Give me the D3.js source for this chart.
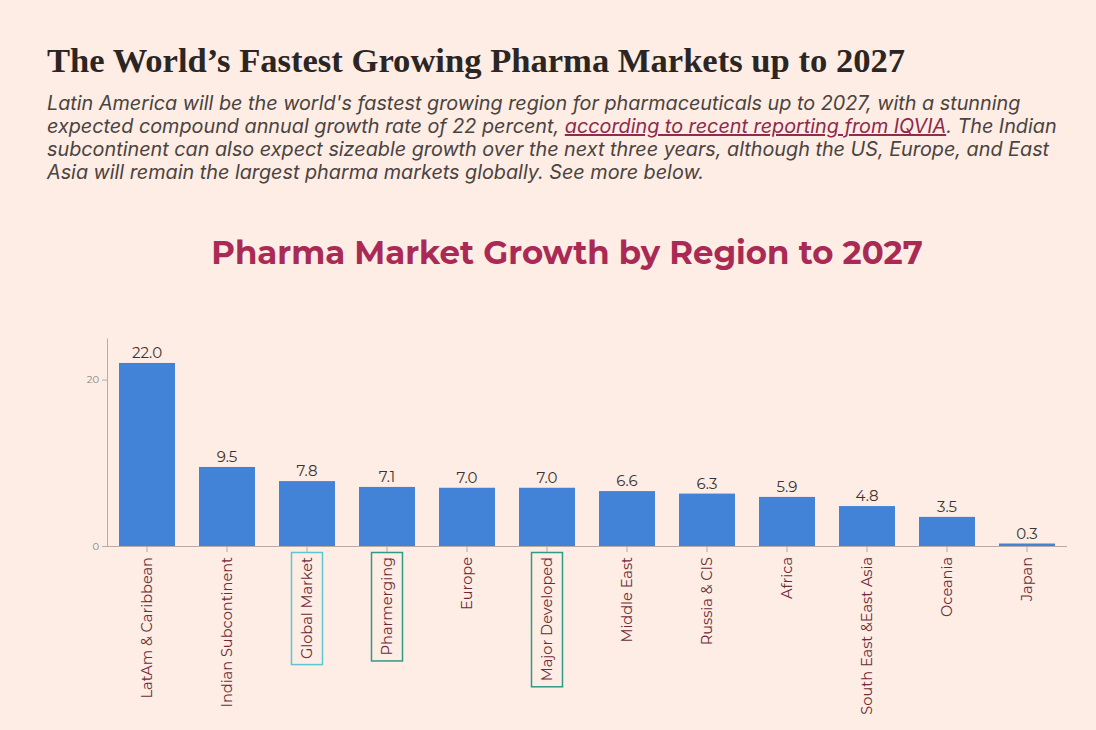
<!DOCTYPE html>
<html>
<head>
<meta charset="utf-8">
<script src="https://cdn.jsdelivr.net/npm/d3@7"></script>
<style>
  body { margin: 0; background: #fdede5; }
  svg { display: block; }
  .tick text { font-family: Montserrat, "Open Sans", sans-serif; }
</style>
</head>
<body>
<div id="chart"></div>
<script>
var svgWidth = 1096;
var svgHeight = 730;

// data
var regions = ["LatAm & Caribbean", "Indian Subcontinent", "Global Market", "Pharmerging",
  "Europe", "Major Developed", "Middle East", "Russia & CIS", "Africa",
  "South East &East Asia", "Oceania", "Japan"];
var growth = [22.0, 9.5, 7.8, 7.1, 7.0, 7.0, 6.6, 6.3, 5.9, 4.8, 3.5, 0.3];
var yTicks = [0, 20];
// labels that get a frame round them
var boxed = { "Global Market": "#5cc6d3", "Pharmerging": "#2f9a86", "Major Developed": "#2f9a86" };

var subtitleLines = [
  [["Latin America will be the world's fastest growing region for pharmaceuticals up to 2027, with a stunning", false]],
  [["expected compound annual growth rate of 22 percent, ", false], ["according to recent reporting from IQVIA", true], [". The Indian", false]],
  [["subcontinent can also expect sizeable growth over the next three years, although the US, Europe, and East", false]],
  [["Asia will remain the largest pharma markets globally. See more below.", false]]
];

var svg = d3.select("#chart")
  .append("svg")
  .attr("width", svgWidth)
  .attr("height", svgHeight);

// headline
svg.append("text")
  .attr("x", 47)
  .attr("y", 72)
  .attr("font-family", "'Liberation Serif', 'DejaVu Serif', serif")
  .attr("font-weight", "bold")
  .attr("font-size", 34.6)
  .attr("fill", "#2b2623")
  .text("The World\u2019s Fastest Growing Pharma Markets up to 2027");

var sub = svg.append("text")
  .attr("font-family", "Inter, 'Open Sans', sans-serif")
  .attr("font-style", "italic")
  .attr("font-size", 19.8)
  .attr("fill", "#4a4340");

subtitleLines.forEach(function (line, i) {
  line.forEach(function (part, j) {
    var ts = sub.append("tspan").text(part[0]);
    if (j === 0) ts.attr("x", 47).attr("y", 110 + i * 23);
    if (part[1]) ts.attr("fill", "#8e2a4b").attr("text-decoration", "underline");
  });
});

// chart title
svg.append("text")
  .attr("x", 567)
  .attr("y", 264)
  .attr("text-anchor", "middle")
  .attr("font-family", "Montserrat, 'Open Sans', sans-serif")
  .attr("font-weight", "bold")
  .attr("font-size", 32.4)
  .attr("fill", "#a92a55")
  .text("Pharma Market Growth by Region to 2027");

var margin = { top: 338, left: 107, right: 29, bottom: 184 };
var width = svgWidth - margin.left - margin.right;
var height = svgHeight - margin.top - margin.bottom;

var chartGroup = svg.append("g")
  .attr("transform", `translate(${margin.left}, ${margin.top})`);

var x = d3.scaleBand()
  .domain(regions)
  .range([0, 960])
  .paddingInner(0.3)
  .paddingOuter(0.15);

var y = d3.scaleLinear()
  .domain([0, 25])
  .range([height, 0]);

// y axis
var yAxis = chartGroup.append("g")
  .call(d3.axisLeft(y).tickValues(yTicks).tickSize(5).tickSizeOuter(0));
yAxis.select(".domain").attr("stroke", "#b9aaa3");
yAxis.selectAll(".tick line").attr("stroke", "#b9aaa3");
yAxis.selectAll(".tick text")
  .attr("font-size", 10)
  .attr("fill", "#8a8280");

// x axis
var xAxis = chartGroup.append("g")
  .attr("transform", `translate(0, ${height})`)
  .call(d3.axisBottom(x).tickSize(6).tickSizeOuter(0));
xAxis.select(".domain").attr("stroke", "#b9aaa3").attr("d", `M0,0.5H${width}`);
xAxis.selectAll(".tick line").attr("stroke", "#b9aaa3");
xAxis.selectAll(".tick text")
  .attr("font-size", 14.6)
  .attr("fill", "#6e2b36")
  .attr("transform", "rotate(-90)")
  .attr("text-anchor", "end")
  .attr("x", -11)
  .attr("y", 0)
  .attr("dy", "0.35em");

// frames round some labels
xAxis.selectAll(".tick").each(function (d) {
  if (!boxed[d]) return;
  var t = d3.select(this).select("text");
  var bb = t.node().getBBox();
  // bbox is in rotated coords: swap
  d3.select(this).insert("rect", "text")
    .attr("x", -15.5)
    .attr("y", 6.5)
    .attr("width", 31)
    .attr("height", bb.width + 10)
    .attr("fill", "none")
    .attr("stroke", boxed[d])
    .attr("stroke-width", 1.5);
});

// bars
chartGroup.selectAll("rect.bar")
  .data(growth)
  .enter()
  .append("rect")
  .attr("class", "bar")
  .attr("x", (d, i) => x(regions[i]))
  .attr("y", d => y(d))
  .attr("width", x.bandwidth())
  .attr("height", d => height - y(d))
  .attr("fill", "#4283d8");

// value labels
chartGroup.selectAll("text.val")
  .data(growth)
  .enter()
  .append("text")
  .attr("class", "val")
  .attr("x", (d, i) => x(regions[i]) + x.bandwidth() / 2)
  .attr("y", d => y(d) - 5)
  .attr("text-anchor", "middle")
  .attr("font-family", "Montserrat, 'Open Sans', sans-serif")
  .attr("font-size", 15)
  .attr("fill", "#3a3330")
  .text(d => d.toFixed(1));
</script>
</body>
</html>
